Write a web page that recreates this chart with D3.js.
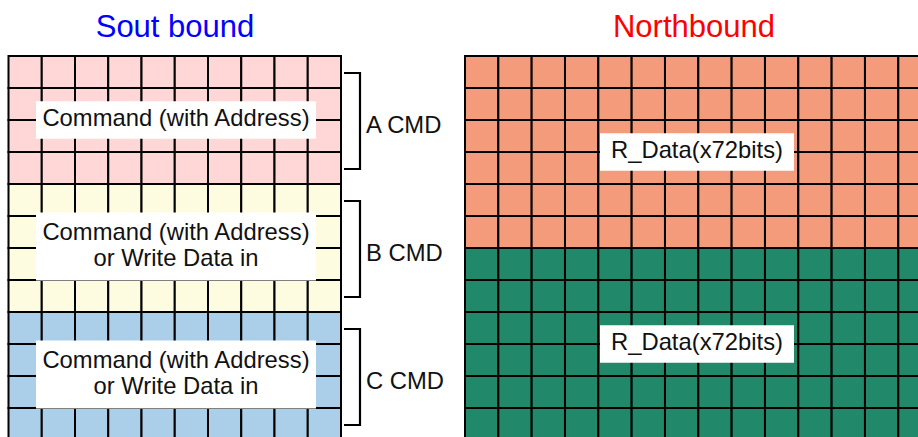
<!DOCTYPE html>
<html>
<head>
<meta charset="utf-8">
<script src="https://cdn.jsdelivr.net/npm/d3@7"></script>
<style>
	body { margin: 0; background: #fff; }
	text { font-family: "Liberation Sans", Arial, sans-serif; }
</style>
</head>
<body>
<div id="chart"></div>
<script>
// southbound side: three command slots, 4 rows x 10 columns each
var southTitle = 'Sout bound';
var southSections = ['A', 'B', 'C'];
var southColors = ['#ffd7d7', '#fdfbe0', '#abcfe9'];
var southLabels = [
	['Command (with Address)'],
	['Command (with Address)', 'or Write Data in'],
	['Command (with Address)', 'or Write Data in']
];
var southBrackets = ['A CMD', 'B CMD', 'C CMD'];
var southCols = 10;
var southRows = 4;

// northbound side: two read data blocks, 6 rows x 14 columns each
var northTitle = 'Northbound';
var northSections = ['R1', 'R2'];
var northColors = ['#f49b7b', '#21896a'];
var northLabels = [['R_Data(x72bits)'], ['R_Data(x72bits)']];
var northCols = 14;
var northRows = 6;

var width = 918;
var height = 437;
var fontSize = 23.8;
var lineGap = 26.5;

var svg = d3.select('#chart').append('svg')
	.attr('width', width)
	.attr('height', height);

// both grids share the same row scale
var yScale = d3.scaleLinear()
	.domain([0, 12])
	.range([56, 440]);

var xSouth = d3.scaleLinear()
	.domain([0, southCols])
	.range([8.5, 341]);

var xNorth = d3.scaleLinear()
	.domain([0, northCols])
	.range([465, 465 + northCols * 33.33]);

function cells(nCols, nRows, sections) {
	var out = [];
	sections.forEach(function (s, i) {
		for (var r = 0; r < nRows; r++) {
			for (var c = 0; c < nCols; c++) {
				out.push({ section: i, row: i * nRows + r, col: c });
			}
		}
	});
	return out;
}

function drawGrid(xScale, nCols, nRows, sections, colors) {
	var g = svg.append('g');
	g.selectAll('.cell')
		.data(cells(nCols, nRows, sections))
		.enter()
		.append('rect')
		.attr('class', 'cell')
		.attr('x', function (d) { return xScale(d.col); })
		.attr('y', function (d) { return yScale(d.row); })
		.attr('width', function (d) { return xScale(d.col + 1) - xScale(d.col); })
		.attr('height', function (d) { return yScale(d.row + 1) - yScale(d.row); })
		.attr('fill', function (d) { return colors[d.section]; })
		.attr('stroke', '#000')
		.attr('stroke-width', 2);
	return g;
}

function drawLabels(labels, nRows, cx, boxW) {
	var g = svg.append('g');
	labels.forEach(function (lines, i) {
		var cy = (yScale(i * nRows) + yScale((i + 1) * nRows)) / 2;
		if (lines.length > 1) cy -= 1.5;
		var boxH = lines.length > 1 ? 68 : 37.5;
		g.append('rect')
			.attr('x', cx - boxW / 2)
			.attr('y', cy - boxH / 2)
			.attr('width', boxW)
			.attr('height', boxH)
			.attr('fill', '#fff');
		var firstBase = cy - 2 + 8.4 - (lines.length - 1) * lineGap / 2;
		lines.forEach(function (t, j) {
			g.append('text')
				.attr('x', cx)
				.attr('y', firstBase + j * lineGap)
				.attr('text-anchor', 'middle')
				.attr('font-size', fontSize)
				.attr('fill', '#111')
				.text(t);
		});
	});
}

drawGrid(xSouth, southCols, southRows, southSections, southColors);
drawGrid(xNorth, northCols, northRows, northSections, northColors);

drawLabels(southLabels, southRows, 176, 280);
drawLabels(northLabels, northRows, 697, 194);

// brackets for the command slots
var bx0 = 344;
var bx1 = 360;
southBrackets.forEach(function (b, i) {
	var cy = (yScale(i * southRows) + yScale((i + 1) * southRows)) / 2 + 1;
	var half = (yScale(3) - yScale(0)) / 2;
	svg.append('path')
		.attr('d', 'M' + bx0 + ',' + (cy - half) + 'H' + bx1 + 'V' + (cy + half) + 'H' + bx0)
		.attr('fill', 'none')
		.attr('stroke', '#000')
		.attr('stroke-width', 2.2);
	svg.append('text')
		.attr('x', 366)
		.attr('y', cy + 11.5)
		.attr('font-size', fontSize)
		.attr('fill', '#111')
		.text(b);
});

svg.append('text')
	.attr('x', 175)
	.attr('y', 36.5)
	.attr('text-anchor', 'middle')
	.attr('font-size', 31)
	.attr('fill', '#0000ff')
	.text(southTitle);

svg.append('text')
	.attr('x', 694)
	.attr('y', 36.5)
	.attr('text-anchor', 'middle')
	.attr('font-size', 31)
	.attr('fill', '#ff0000')
	.text(northTitle);
</script>
</body>
</html>
